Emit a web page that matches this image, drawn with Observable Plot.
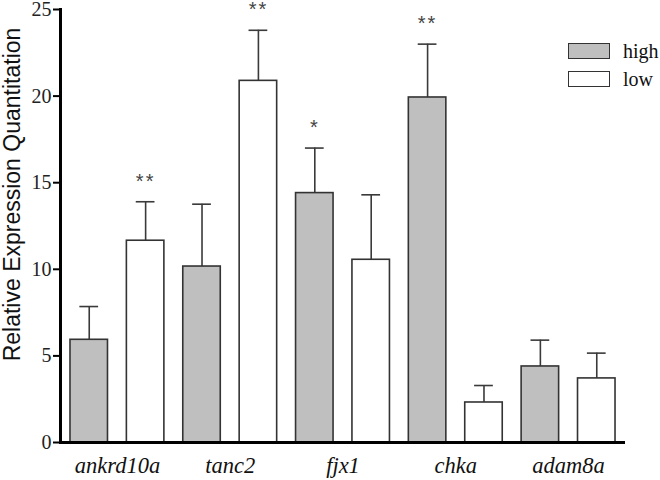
<!DOCTYPE html>
<html>
<head>
<meta charset="utf-8">
<script src="https://cdn.jsdelivr.net/npm/d3@7"></script>
<script src="https://cdn.jsdelivr.net/npm/@observablehq/plot@0.6"></script>
</head>
<body style="margin:0;padding:0;background:#fff">
<div id="wrap" style="position:relative;width:660px;height:480px">
  <div id="chart"></div>
  <div id="legend" style="position:absolute;left:568px;top:37px;font-family:'Liberation Serif';font-size:20px;color:#111"></div>
</div>
<script>
const genes = ["ankrd10a", "tanc2", "fjx1", "chka", "adam8a"];
const series = ["high", "low"];
const highValues = [5.93, 10.16, 14.40, 19.92, 4.39];
const highErrors = [1.92, 3.60, 2.60, 3.08, 1.52];
const lowValues = [11.65, 20.88, 10.55, 2.31, 3.70];
const lowErrors = [2.25, 2.92, 3.75, 0.98, 1.46];
const highSig = ["", "", "*", "**", ""];
const lowSig = ["**", "**", "", "", ""];
const yTicks = [0, 5, 10, 15, 20, 25];
const yTitle = "Relative Expression Quantitation";
const seriesFill = {high: "#bfbfbf", low: "#ffffff"};

const data = [];
genes.forEach((g, i) => {
  data.push({gene: g, series: "high", key: g + "|high", value: highValues[i], err: highErrors[i], sig: highSig[i]});
  data.push({gene: g, series: "low", key: g + "|low", value: lowValues[i], err: lowErrors[i], sig: lowSig[i]});
});
data.forEach(d => d.top = d.value + d.err);
const keys = data.map(d => d.key);

const W = 660, H = 480, mL = 60, mR = 35, mT = 9, mB = 38;
const padIn = 0.335, padOut = 0.177;
const xb = d3.scaleBand(keys, [mL, W - mR]).paddingInner(padIn).paddingOuter(padOut);
const half = xb.step() / 2;
const capInset = xb.bandwidth() * 0.25;

const SERIF = "'Liberation Serif', serif";
const SANS = "'Liberation Sans', sans-serif";

const plot = Plot.plot({
  width: W, height: H,
  marginLeft: mL, marginRight: mR, marginTop: mT, marginBottom: mB,
  style: {fontFamily: SERIF, fontSize: "20px", background: "#fff", overflow: "visible"},
  x: {type: "band", domain: keys, paddingInner: padIn, paddingOuter: padOut, round: false, axis: null},
  y: {domain: [0, 25], axis: null},
  marks: [
    Plot.ruleX(data, {x: "key", y1: "value", y2: "top", stroke: "#3a3a3a", strokeWidth: 1.6}),
    Plot.tickY(data, {x: "key", y: "top", stroke: "#3a3a3a", strokeWidth: 1.6, insetLeft: capInset, insetRight: capInset}),
    Plot.barY(data, {x: "key", y: "value", fill: d => seriesFill[d.series], stroke: "#333", strokeWidth: 1.6}),
    Plot.text(data.filter(d => d.sig), {x: "key", y: "top", text: "sig", lineAnchor: "bottom", dy: -14,
      fontSize: 20, fontFamily: SANS, fill: "#444"}),
    Plot.axisY({ticks: yTicks, tickSize: 7, tickPadding: 2, strokeWidth: 2, fontSize: 20, fontFamily: SERIF, fill: "#222", label: null}),
    Plot.frame({anchor: "left", strokeWidth: 3, stroke: "#000"}),
    Plot.ruleY([0], {strokeWidth: 3, stroke: "#000"}),
    Plot.text(data.filter(d => d.series === "high"), {x: "key", text: "gene", frameAnchor: "bottom",
      lineAnchor: "top", dx: half, dy: 15, fontSize: 22.5, fontStyle: "italic", fontFamily: SERIF, fill: "#111"}),
    Plot.text([yTitle], {text: d => d, frameAnchor: "left", textAnchor: "middle", rotate: -90, lineAnchor: "middle",
      dx: -48, dy: -31.5, fontSize: 23, fontFamily: SANS, fill: "#111"})
  ]
});
document.getElementById("chart").appendChild(plot);
d3.select(plot).selectAll("text").filter(function() { return this.textContent.includes("*"); }).style("letter-spacing", "2px");

const legend = document.getElementById("legend");
series.forEach(s => {
  const row = document.createElement("div");
  row.style.cssText = "display:flex;align-items:center;height:28px";
  const sw = document.createElement("div");
  sw.style.cssText = "width:40px;height:14px;border:1.5px solid #333;margin-right:13px;background:" + seriesFill[s];
  const lab = document.createElement("span");
  lab.textContent = s;
  row.appendChild(sw);
  row.appendChild(lab);
  legend.appendChild(row);
});
</script>
</body>
</html>
